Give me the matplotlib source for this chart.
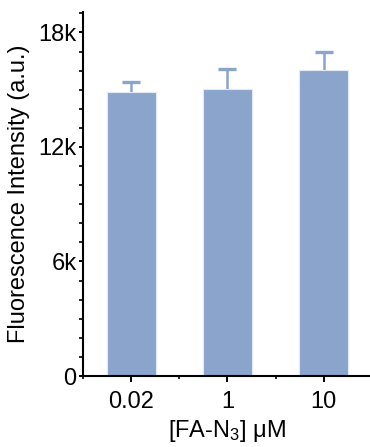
import matplotlib
matplotlib.use("Agg")
import matplotlib.pyplot as plt
from matplotlib.ticker import MultipleLocator, FixedLocator, FuncFormatter

plt.rcParams["font.family"] = ["Liberation Sans", "DejaVu Sans"]
plt.rcParams["mathtext.fontset"] = "custom"
plt.rcParams["mathtext.rm"] = "Liberation Sans"
plt.rcParams["mathtext.it"] = "Liberation Sans"

# concentrations and measured fluorescence (mean, upper error)
concentrations = ["0.02", "1", "10"]
intensity = [14900, 15030, 16010]
error = [520, 1070, 960]

bar_color = "#8aa4cc"

fig = plt.figure(figsize=(3.70, 4.47), dpi=100)
ax = fig.add_axes([0.2243, 0.1588, 0.781, 0.8143])

x = list(range(len(concentrations)))
ax.bar(x, intensity, width=0.51, color=bar_color, edgecolor="#e4eaf4",
       linewidth=0.8, zorder=2)
eb = ax.errorbar(x, intensity, yerr=[[0] * len(error), error], fmt="none",
                 ecolor=bar_color, elinewidth=1.8, capsize=6.5, capthick=2.4,
                 zorder=1)
# only the upper cap is shown, with round ends
lower_cap, upper_cap = eb.lines[1]
lower_cap.set_visible(False)
upper_cap.set_solid_capstyle("round")

ax.set_xlim(-0.5, 2.5)
ax.set_ylim(0, 19070)

ax.set_xticks(x)
ax.set_xticklabels(concentrations)
ax.xaxis.set_minor_locator(FixedLocator([-0.5, 0.5, 1.5, 2.5]))

ax.yaxis.set_major_locator(MultipleLocator(6000))
ax.yaxis.set_minor_locator(MultipleLocator(1000))
ax.yaxis.set_major_formatter(FuncFormatter(
    lambda v, p: "0" if v == 0 else "%dk" % (v / 1000)))

for side in ["top", "right"]:
    ax.spines[side].set_visible(False)
for side in ["left", "bottom"]:
    ax.spines[side].set_linewidth(1.5)

ax.tick_params(axis="both", which="major", direction="out", length=4.5,
               width=1.4, labelsize=17, pad=3)
ax.tick_params(axis="y", which="major", length=3.2, pad=1.5)
ax.tick_params(axis="x", which="major", pad=6)
ax.tick_params(axis="both", which="minor", direction="out", length=2.5,
               width=1.2)

# every second minor tick on y is a bit longer
for t in ax.yaxis.get_minor_ticks():
    if round(t.get_loc()) % 2000 == 0:
        t.tick1line.set_markersize(3.2)
    else:
        t.tick1line.set_markersize(1.8)

ax.set_ylabel("Fluorescence Intensity (a.u.)", fontsize=17, labelpad=6)
ax.set_xlabel("[FA-N$_3$] μM", fontsize=17, labelpad=4)

fig.savefig("out.png", dpi=100)
